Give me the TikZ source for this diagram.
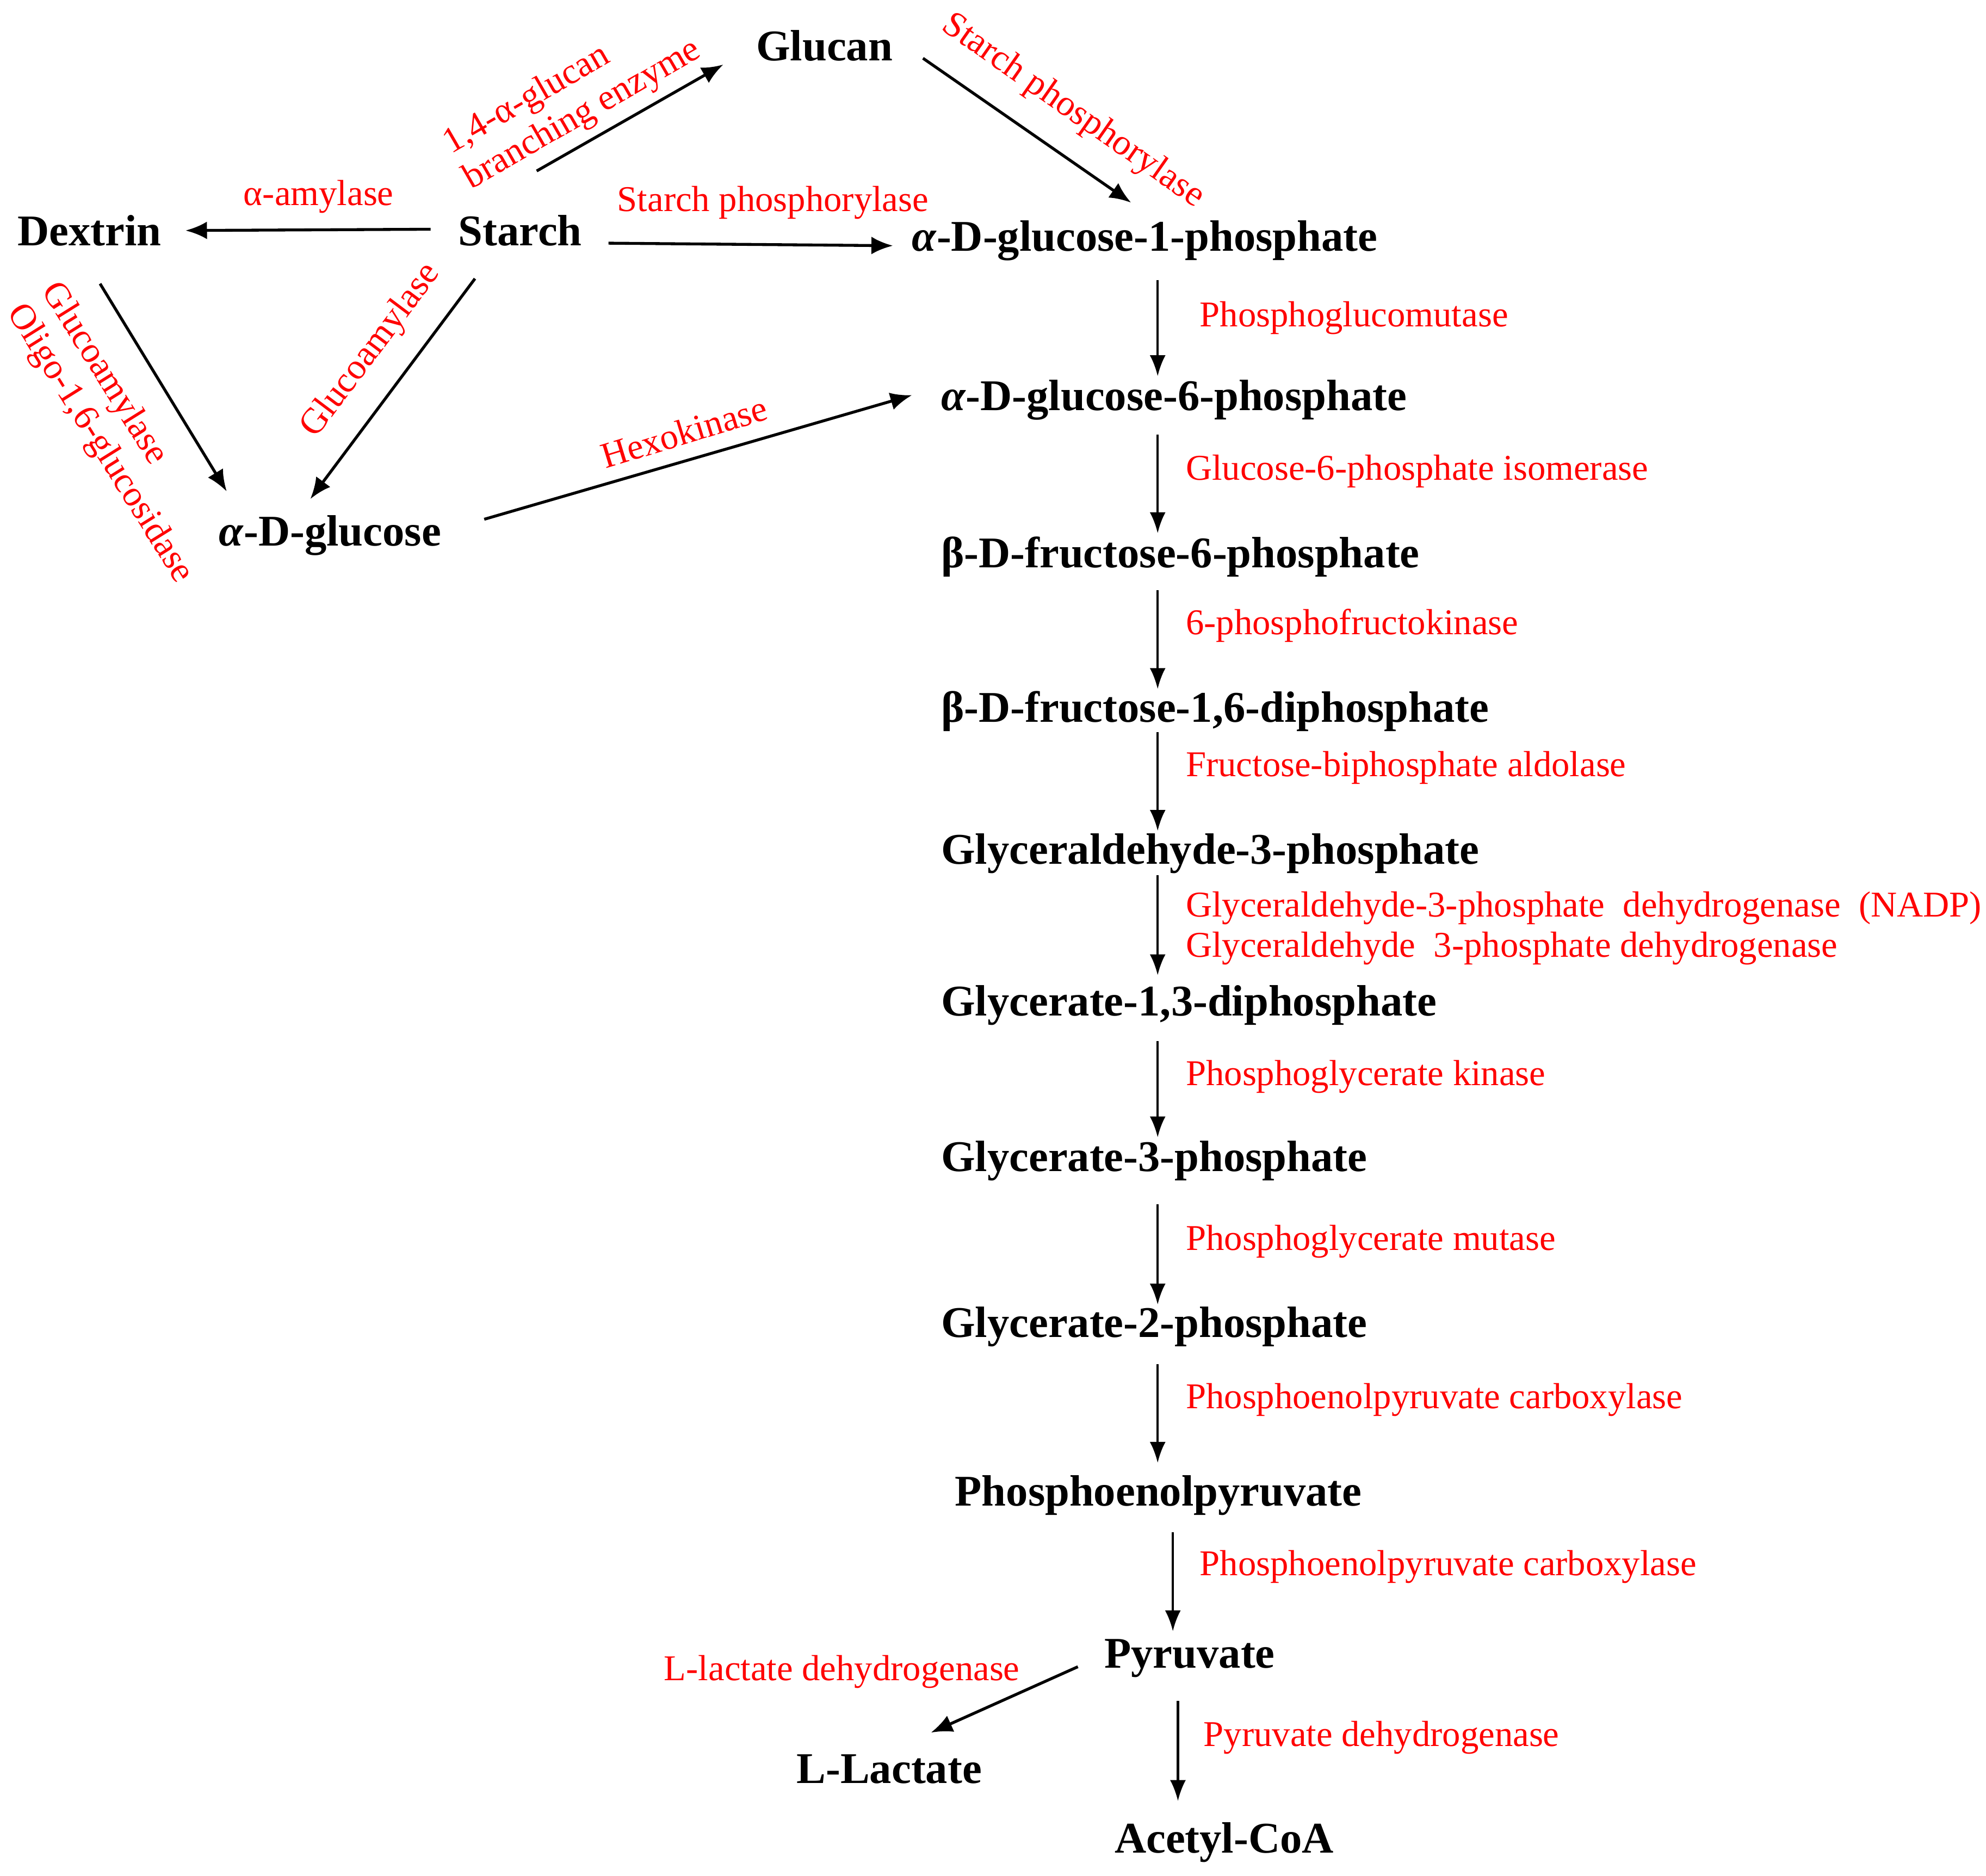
\documentclass[tikz,border=0pt]{standalone}
\usepackage{fontspec}
\setmainfont{Liberation Serif}
\usetikzlibrary{arrows.meta,calc}

\begin{document}
\begin{tikzpicture}[% 
    x=0.02cm, y=-0.02cm,
    metab/.style={
      anchor=base west,
      inner sep=0pt,
      outer sep=0pt,
      font=\fontsize{19.7}{22}\selectfont\bfseries
    },
    enzyme/.style={
      anchor=base west,
      inner sep=0pt,
      text=red,
      font=\fontsize{16.3}{18.2}\selectfont
    },
    rxn/.style={
      -{Latex[length=0.34cm,width=0.28cm]},
      line width=1.3pt
    },
    rxnv/.style={
      -{Latex[length=0.33cm,width=0.25cm]},
      line width=1pt
    }
  ]
    \useasboundingbox (0,0) rectangle (1568,1481);

    % metabolites
    \draw (597,48) node[metab] (glucan) {Glucan};
    \draw (14,194) node[metab] (dextrin) {Dextrin};
    \draw (362,194) node[metab] (starch) {Starch};
    \draw (173,431) node[metab] (aglc) {\textit{α}-D-glucose};
    \draw (720,198) node[metab] (g1p) {\textit{α}-D-glucose-1-phosphate};
    \draw (743,324) node[metab] (g6p) {\textit{α}-D-glucose-6-phosphate};
    \draw (743,448) node[metab] (f6p) {β-D-fructose-6-phosphate};
    \draw (743,570) node[metab] (fbp) {β-D-fructose-1,6-diphosphate};
    \draw (743,682) node[metab] (gap) {Glyceraldehyde-3-phosphate};
    \draw (743,802) node[metab] (bpg) {Glycerate-1,3-diphosphate};
    \draw (743,925) node[metab] (pgc) {Glycerate-3-phosphate};
    \draw (743,1056) node[metab] (pgb) {Glycerate-2-phosphate};
    \draw (754,1189) node[metab] (pep) {Phosphoenolpyruvate};
    \draw (872,1317) node[metab] (pyr) {Pyruvate};
    \draw (629,1408) node[metab] (lac) {L-Lactate};
    \draw (880,1463) node[metab] (accoa) {Acetyl-CoA};

    % enzymes
    \draw (192,162) node[enzyme] (amy) {α-amylase};
    \draw (487,167) node[enzyme] (spa) {Starch phosphorylase};
    \draw (452,77) node[enzyme, anchor=center, align=left, rotate=30] (gbe)
      {1,4-α-glucan\\branching enzyme};
    \draw (847,88) node[enzyme, anchor=center, rotate=-35] (spb) {Starch phosphorylase};
    \draw (293,277) node[enzyme, anchor=center, rotate=53] (gla) {Glucoamylase};
    \draw (92,342) node[enzyme, anchor=center, align=left, rotate=-58] (glb)
      {Glucoamylase\\Oligo-1,6-glucosidase};
    \draw (540,341) node[enzyme, anchor=center, rotate=17] (hk) {Hexokinase};
    \draw (947,258) node[enzyme] (pgm) {Phosphoglucomutase};
    \draw (936,379) node[enzyme] (gpi) {Glucose-6-phosphate isomerase};
    \draw (936,501) node[enzyme] (pfk) {6-phosphofructokinase};
    \draw (936,613) node[enzyme] (ald) {Fructose-biphosphate aldolase};
    \draw (936,733) node[enzyme, anchor=west, align=left] (gapdh)
      {Glyceraldehyde-3-phosphate\ \ dehydrogenase\ \ (NADP)\\
       Glyceraldehyde\ \ 3-phosphate dehydrogenase};
    \draw (936,857) node[enzyme] (pgk) {Phosphoglycerate kinase};
    \draw (936,987) node[enzyme] (pgam) {Phosphoglycerate mutase};
    \draw (936,1112) node[enzyme] (ppca) {Phosphoenolpyruvate carboxylase};
    \draw (947,1244) node[enzyme] (ppcb) {Phosphoenolpyruvate carboxylase};
    \draw (524,1327) node[enzyme] (ldh) {L-lactate dehydrogenase};
    \draw (950,1379) node[enzyme] (pdh) {Pyruvate dehydrogenase};

    % starch branch
    \draw[rxn] ([shift={(-22,-13)}]starch.base west) -- ([shift={(19,-12)}]dextrin.base east);
    \draw[rxn] ([shift={(13,-59)}]starch.base) -- ([shift={(-26,3)}]glucan.base west);
    \draw[rxn] ([shift={(24,-2)}]glucan.base east) -- ([shift={(173,-38)}]g1p.base west);
    \draw[rxn] ([shift={(21,-2)}]starch.base east) -- ([shift={(-15,-4)}]g1p.base west);
    \draw[rxn] ([shift={(65,30)}]dextrin.base west) -- ([shift={(6,-43)}]aglc.base west);
    \draw[rxn] ([shift={(13,26)}]starch.base west) -- ([shift={(72,-37)}]aglc.base west);
    \draw[rxn] ([shift={(34,-21)}]aglc.base east) -- ([shift={(-23,-12)}]g6p.base west);
    \draw[rxn] ([shift={(-21,-1)}]pyr.base west) -- ([shift={(106,-40)}]lac.base west);

    % glycolysis
    \coordinate (axis) at (914,0);
    \coordinate (axisb) at (926,0);
    \coordinate (axisc) at (930,0);
    \foreach \src/\dst/\s/\e/\ax in {g1p/g6p/23/27/axis, g6p/f6p/19/27/axis,
        f6p/fbp/18/26/axis, fbp/gap/8/26/axis, gap/bpg/9/32/axis,
        bpg/pgc/20/27/axis, pgc/pgb/26/26/axis, pgb/pep/21/34/axis,
        pep/pyr/21/29/axisb, pyr/accoa/26/41/axisc}
      \draw[rxnv] ($(\src.base west -| \ax)+(0,\s)$) -- ($(\dst.base west -| \ax)+(0,-\e)$);

\end{tikzpicture}
\end{document}
